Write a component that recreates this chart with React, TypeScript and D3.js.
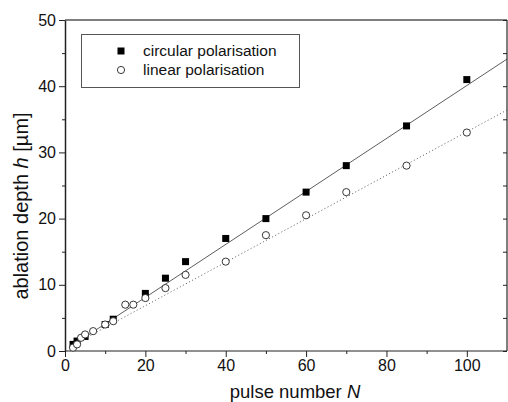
import * as d3 from 'd3';
import React, { useEffect, useRef } from 'react';

// pulse number N vs ablation depth h [µm]
const circN = [2, 3, 5, 10, 12, 20, 25, 30, 40, 50, 60, 70, 85, 100];
const circH = [1, 1.5, 2.2, 4, 4.8, 8.7, 11, 13.5, 17, 20, 24, 28, 34, 41];
const linN = [2, 3, 4, 5, 7, 10, 12, 15, 17, 20, 25, 30, 40, 50, 60, 70, 85, 100];
const linH = [0.5, 1, 2, 2.5, 3, 4, 4.5, 7, 7, 8, 9.5, 11.5, 13.5, 17.5, 20.5, 24, 28, 33];

// linear fits (end points)
const fitN = [1, 110];
const circFit = [0.5, 44.1];
const linFit = [0.6, 36.4];

const xTicks = [0, 20, 40, 60, 80, 100];
const yTicks = [0, 10, 20, 30, 40, 50];
const legendLabels = ['circular polarisation', 'linear polarisation'];

export default function App() {
  const svgRef = useRef(null);
  const width = 508;
  const height = 402;

  useEffect(() => {
    const svg = d3.select(svgRef.current);
    svg.selectAll('*').remove();
    const margin = { top: 20, right: 1, bottom: 51, left: 65 };

    const x = d3.scaleLinear().domain([0, 110]).range([margin.left, width - margin.right]);
    const y = d3.scaleLinear().domain([0, 50]).range([height - margin.bottom, margin.top]);
    const font = 'Liberation Sans, Arial, sans-serif';

    // frame
    svg.append('line')
      .attr('x1', x(0)).attr('x2', x(110)).attr('y1', y(50)).attr('y2', y(50))
      .attr('stroke', '#555').attr('stroke-width', 1.5);
    svg.append('line')
      .attr('x1', x(110)).attr('x2', x(110)).attr('y1', y(50)).attr('y2', y(0))
      .attr('stroke', '#555').attr('stroke-width', 1.5);

    // right axis inward ticks
    const right = svg.append('g').attr('transform', `translate(${x(110)},0)`)
      .call(d3.axisLeft(y).tickValues(d3.range(0, 51, 5)).tickSize(4).tickFormat(() => ''));
    right.select('.domain').remove();
    right.selectAll('line').attr('stroke', '#222');

    // bottom axis
    const bottom = svg.append('g').attr('transform', `translate(0,${y(0)})`);
    bottom.call(d3.axisBottom(x).tickValues(d3.range(10, 110, 20)).tickSize(3).tickFormat(() => ''));
    bottom.call((g) => g.select('.domain').remove());
    const bMaj = svg.append('g').attr('transform', `translate(0,${y(0)})`)
      .call(d3.axisBottom(x).tickValues(xTicks).tickSize(6).tickSizeOuter(0).tickPadding(3));
    bMaj.select('.domain').attr('stroke', '#222').attr('stroke-width', 1.2)
      .attr('d', `M${x(0)},0H${x(110)}`);
    bMaj.selectAll('text').style('font-family', font).style('font-size', '16px').attr('fill', '#111');
    svg.selectAll('.tick line').attr('stroke', '#222');

    // left axis
    svg.append('g').attr('transform', `translate(${x(0)},0)`)
      .call(d3.axisLeft(y).tickValues(d3.range(5, 50, 10)).tickSize(3).tickFormat(() => ''))
      .call((g) => g.select('.domain').remove())
      .selectAll('line').attr('stroke', '#222');
    const lMaj = svg.append('g').attr('transform', `translate(${x(0)},0)`)
      .call(d3.axisLeft(y).tickValues(yTicks).tickSize(6).tickSizeOuter(0).tickPadding(3));
    lMaj.select('.domain').attr('stroke', '#222').attr('stroke-width', 1.5);
    lMaj.selectAll('line').attr('stroke', '#222');
    lMaj.selectAll('text').style('font-family', font).style('font-size', '16px').attr('fill', '#111');

    // fit lines
    const line = d3.line().x((d) => x(d[0])).y((d) => y(d[1]));
    svg.append('path')
      .attr('d', line(fitN.map((n, i) => [n, circFit[i]])))
      .attr('stroke', '#333').attr('stroke-width', 0.8).attr('fill', 'none');
    svg.append('path')
      .attr('d', line(fitN.map((n, i) => [n, linFit[i]])))
      .attr('stroke', '#555').attr('stroke-width', 1).attr('stroke-dasharray', '1 2.5').attr('fill', 'none');

    // markers
    const s = 7;
    svg.append('g').selectAll('rect')
      .data(circN.map((n, i) => [n, circH[i]]))
      .enter().append('rect')
      .attr('x', (d) => x(d[0]) - s / 2).attr('y', (d) => y(d[1]) - s / 2)
      .attr('width', s).attr('height', s).attr('fill', '#000');
    svg.append('g').selectAll('circle')
      .data(linN.map((n, i) => [n, linH[i]]))
      .enter().append('circle')
      .attr('cx', (d) => x(d[0])).attr('cy', (d) => y(d[1])).attr('r', 3.6)
      .attr('fill', '#fff').attr('stroke', '#222').attr('stroke-width', 0.9);

    // legend
    const lg = svg.append('g');
    lg.append('rect').attr('x', 81.5).attr('y', 34.5).attr('width', 218).attr('height', 53)
      .attr('fill', '#fff').attr('stroke', '#555').attr('stroke-width', 1);
    lg.append('rect').attr('x', 121 - s / 2).attr('y', 51 - s / 2).attr('width', s).attr('height', s).attr('fill', '#000');
    lg.append('circle').attr('cx', 121).attr('cy', 70).attr('r', 3.6)
      .attr('fill', '#fff').attr('stroke', '#222').attr('stroke-width', 0.9);
    lg.selectAll('text').data(legendLabels).enter().append('text')
      .attr('x', 143).attr('y', (d, i) => 56 + i * 19)
      .style('font-family', font).style('font-size', '15.5px').attr('fill', '#111')
      .text((d) => d);

    // axis titles
    const xt = svg.append('text').attr('x', 295).attr('y', 398).attr('text-anchor', 'middle')
      .style('font-family', font).style('font-size', '18.5px').attr('fill', '#111');
    xt.append('tspan').text('pulse number ');
    xt.append('tspan').attr('font-style', 'italic').text('N');

    const yt = svg.append('text').attr('transform', 'translate(28,206) rotate(-90)')
      .attr('text-anchor', 'middle')
      .style('font-family', font).style('font-size', '20px').attr('fill', '#111');
    yt.append('tspan').text('ablation depth ');
    yt.append('tspan').attr('font-style', 'italic').text('h');
    yt.append('tspan').text(' [µm]');
  }, []);

  return (
    <svg ref={svgRef} width={width} height={height}
      style={{ position: 'absolute', left: 0, top: 0, background: '#fff' }} />
  );
}
